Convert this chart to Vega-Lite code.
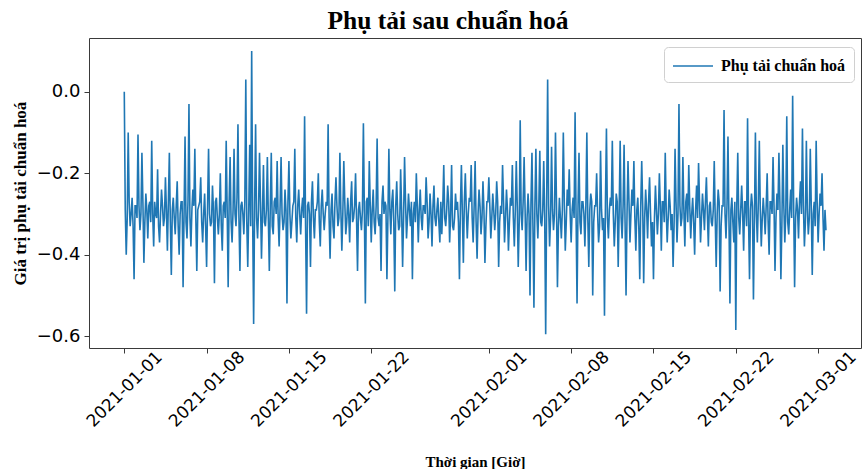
{
  "$schema": "https://vega.github.io/schema/vega-lite/v6.json",
  "width": 772,
  "height": 310,
  "autosize": {"type": "none"},
  "padding": {"left": 89, "top": 38, "right": 6, "bottom": 121},
  "background": "#ffffff",
  "title": {
    "text": "Phụ tải sau chuẩn hoá",
    "font": "Liberation Serif",
    "fontWeight": "bold",
    "fontSize": 25.5,
    "color": "#000000",
    "anchor": "middle",
    "frame": "group",
    "baseline": "alphabetic",
    "offset": 8,
    "dy": 24,
    "dx": -27
  },
  "config": {
    "view": {"stroke": "#3a3a3a", "strokeWidth": 1},
    "axis": {"grid": false, "domain": false, "tickColor": "#3a3a3a", "tickSize": 5, "labelColor": "#000000", "titleColor": "#000000"}
  },
  "data": {
    "values": [
      {"t":"2021-01-01T00:00","v":0.0},{"t":"2021-01-01T02:00","v":-0.29},{"t":"2021-01-01T04:00","v":-0.40},{"t":"2021-01-01T06:00","v":-0.31},{"t":"2021-01-01T08:00","v":-0.10},{"t":"2021-01-01T10:00","v":-0.27},{"t":"2021-01-01T12:00","v":-0.33},{"t":"2021-01-01T14:00","v":-0.30},{"t":"2021-01-01T16:00","v":-0.26},{"t":"2021-01-01T18:00","v":-0.33},{"t":"2021-01-01T20:00","v":-0.46},{"t":"2021-01-01T22:00","v":-0.28},
      {"t":"2021-01-02T00:00","v":-0.28},{"t":"2021-01-02T02:00","v":-0.31},{"t":"2021-01-02T04:00","v":-0.105},{"t":"2021-01-02T06:00","v":-0.28},{"t":"2021-01-02T08:00","v":-0.34},{"t":"2021-01-02T10:00","v":-0.30},{"t":"2021-01-02T12:00","v":-0.15},{"t":"2021-01-02T14:00","v":-0.27},{"t":"2021-01-02T16:00","v":-0.42},{"t":"2021-01-02T18:00","v":-0.32},{"t":"2021-01-02T20:00","v":-0.25},{"t":"2021-01-02T22:00","v":-0.29},
      {"t":"2021-01-03T00:00","v":-0.36},{"t":"2021-01-03T02:00","v":-0.28},{"t":"2021-01-03T04:00","v":-0.27},{"t":"2021-01-03T06:00","v":-0.32},{"t":"2021-01-03T08:00","v":-0.12},{"t":"2021-01-03T10:00","v":-0.30},{"t":"2021-01-03T12:00","v":-0.38},{"t":"2021-01-03T14:00","v":-0.27},{"t":"2021-01-03T16:00","v":-0.30},{"t":"2021-01-03T18:00","v":-0.31},{"t":"2021-01-03T20:00","v":-0.19},{"t":"2021-01-03T22:00","v":-0.33},
      {"t":"2021-01-04T00:00","v":-0.37},{"t":"2021-01-04T02:00","v":-0.30},{"t":"2021-01-04T04:00","v":-0.24},{"t":"2021-01-04T06:00","v":-0.28},{"t":"2021-01-04T08:00","v":-0.33},{"t":"2021-01-04T10:00","v":-0.31},{"t":"2021-01-04T12:00","v":-0.21},{"t":"2021-01-04T14:00","v":-0.29},{"t":"2021-01-04T16:00","v":-0.39},{"t":"2021-01-04T18:00","v":-0.27},{"t":"2021-01-04T20:00","v":-0.15},{"t":"2021-01-04T22:00","v":-0.32},
      {"t":"2021-01-05T00:00","v":-0.45},{"t":"2021-01-05T02:00","v":-0.29},{"t":"2021-01-05T04:00","v":-0.26},{"t":"2021-01-05T06:00","v":-0.31},{"t":"2021-01-05T08:00","v":-0.35},{"t":"2021-01-05T10:00","v":-0.28},{"t":"2021-01-05T12:00","v":-0.22},{"t":"2021-01-05T14:00","v":-0.33},{"t":"2021-01-05T16:00","v":-0.40},{"t":"2021-01-05T18:00","v":-0.30},{"t":"2021-01-05T20:00","v":-0.27},{"t":"2021-01-05T22:00","v":-0.27},
      {"t":"2021-01-06T00:00","v":-0.48},{"t":"2021-01-06T02:00","v":-0.30},{"t":"2021-01-06T04:00","v":-0.11},{"t":"2021-01-06T06:00","v":-0.32},{"t":"2021-01-06T08:00","v":-0.36},{"t":"2021-01-06T10:00","v":-0.27},{"t":"2021-01-06T12:00","v":-0.03},{"t":"2021-01-06T14:00","v":-0.31},{"t":"2021-01-06T16:00","v":-0.38},{"t":"2021-01-06T18:00","v":-0.29},{"t":"2021-01-06T20:00","v":-0.24},{"t":"2021-01-06T22:00","v":-0.28},
      {"t":"2021-01-07T00:00","v":-0.14},{"t":"2021-01-07T02:00","v":-0.31},{"t":"2021-01-07T04:00","v":-0.44},{"t":"2021-01-07T06:00","v":-0.29},{"t":"2021-01-07T08:00","v":-0.28},{"t":"2021-01-07T10:00","v":-0.27},{"t":"2021-01-07T12:00","v":-0.21},{"t":"2021-01-07T14:00","v":-0.32},{"t":"2021-01-07T16:00","v":-0.37},{"t":"2021-01-07T18:00","v":-0.30},{"t":"2021-01-07T20:00","v":-0.25},{"t":"2021-01-07T22:00","v":-0.33},
      {"t":"2021-01-08T00:00","v":-0.43},{"t":"2021-01-08T02:00","v":-0.28},{"t":"2021-01-08T04:00","v":-0.14},{"t":"2021-01-08T06:00","v":-0.30},{"t":"2021-01-08T08:00","v":-0.33},{"t":"2021-01-08T10:00","v":-0.32},{"t":"2021-01-08T12:00","v":-0.23},{"t":"2021-01-08T14:00","v":-0.29},{"t":"2021-01-08T16:00","v":-0.47},{"t":"2021-01-08T18:00","v":-0.27},{"t":"2021-01-08T20:00","v":-0.26},{"t":"2021-01-08T22:00","v":-0.31},
      {"t":"2021-01-09T00:00","v":-0.35},{"t":"2021-01-09T02:00","v":-0.30},{"t":"2021-01-09T04:00","v":-0.20},{"t":"2021-01-09T06:00","v":-0.33},{"t":"2021-01-09T08:00","v":-0.39},{"t":"2021-01-09T10:00","v":-0.28},{"t":"2021-01-09T12:00","v":-0.27},{"t":"2021-01-09T14:00","v":-0.31},{"t":"2021-01-09T16:00","v":-0.12},{"t":"2021-01-09T18:00","v":-0.29},{"t":"2021-01-09T20:00","v":-0.48},{"t":"2021-01-09T22:00","v":-0.27},
      {"t":"2021-01-10T00:00","v":-0.16},{"t":"2021-01-10T02:00","v":-0.32},{"t":"2021-01-10T04:00","v":-0.37},{"t":"2021-01-10T06:00","v":-0.29},{"t":"2021-01-10T08:00","v":-0.14},{"t":"2021-01-10T10:00","v":-0.30},{"t":"2021-01-10T12:00","v":-0.33},{"t":"2021-01-10T14:00","v":-0.26},{"t":"2021-01-10T16:00","v":-0.08},{"t":"2021-01-10T18:00","v":-0.31},{"t":"2021-01-10T20:00","v":-0.44},{"t":"2021-01-10T22:00","v":-0.28},
      {"t":"2021-01-11T00:00","v":-0.27},{"t":"2021-01-11T02:00","v":-0.30},{"t":"2021-01-11T04:00","v":-0.35},{"t":"2021-01-11T06:00","v":-0.27},{"t":"2021-01-11T08:00","v":0.03},{"t":"2021-01-11T10:00","v":-0.32},{"t":"2021-01-11T12:00","v":-0.43},{"t":"2021-01-11T14:00","v":-0.29},{"t":"2021-01-11T16:00","v":-0.13},{"t":"2021-01-11T18:00","v":-0.33},{"t":"2021-01-11T20:00","v":0.10},{"t":"2021-01-11T22:00","v":-0.31},
      {"t":"2021-01-12T00:00","v":-0.57},{"t":"2021-01-12T02:00","v":-0.28},{"t":"2021-01-12T04:00","v":-0.08},{"t":"2021-01-12T06:00","v":-0.31},{"t":"2021-01-12T08:00","v":-0.36},{"t":"2021-01-12T10:00","v":-0.29},{"t":"2021-01-12T12:00","v":-0.15},{"t":"2021-01-12T14:00","v":-0.27},{"t":"2021-01-12T16:00","v":-0.41},{"t":"2021-01-12T18:00","v":-0.30},{"t":"2021-01-12T20:00","v":-0.18},{"t":"2021-01-12T22:00","v":-0.32},
      {"t":"2021-01-13T00:00","v":-0.33},{"t":"2021-01-13T02:00","v":-0.29},{"t":"2021-01-13T04:00","v":-0.16},{"t":"2021-01-13T06:00","v":-0.31},{"t":"2021-01-13T08:00","v":-0.44},{"t":"2021-01-13T10:00","v":-0.28},{"t":"2021-01-13T12:00","v":-0.15},{"t":"2021-01-13T14:00","v":-0.33},{"t":"2021-01-13T16:00","v":-0.35},{"t":"2021-01-13T18:00","v":-0.27},{"t":"2021-01-13T20:00","v":-0.26},{"t":"2021-01-13T22:00","v":-0.30},
      {"t":"2021-01-14T00:00","v":-0.17},{"t":"2021-01-14T02:00","v":-0.31},{"t":"2021-01-14T04:00","v":-0.38},{"t":"2021-01-14T06:00","v":-0.28},{"t":"2021-01-14T08:00","v":-0.16},{"t":"2021-01-14T10:00","v":-0.30},{"t":"2021-01-14T12:00","v":-0.34},{"t":"2021-01-14T14:00","v":-0.32},{"t":"2021-01-14T16:00","v":-0.24},{"t":"2021-01-14T18:00","v":-0.29},{"t":"2021-01-14T20:00","v":-0.52},{"t":"2021-01-14T22:00","v":-0.27},
      {"t":"2021-01-15T00:00","v":-0.17},{"t":"2021-01-15T02:00","v":-0.30},{"t":"2021-01-15T04:00","v":-0.36},{"t":"2021-01-15T06:00","v":-0.32},{"t":"2021-01-15T08:00","v":-0.28},{"t":"2021-01-15T10:00","v":-0.27},{"t":"2021-01-15T12:00","v":-0.14},{"t":"2021-01-15T14:00","v":-0.31},{"t":"2021-01-15T16:00","v":-0.37},{"t":"2021-01-15T18:00","v":-0.28},{"t":"2021-01-15T20:00","v":-0.24},{"t":"2021-01-15T22:00","v":-0.30},
      {"t":"2021-01-16T00:00","v":-0.35},{"t":"2021-01-16T02:00","v":-0.29},{"t":"2021-01-16T04:00","v":-0.26},{"t":"2021-01-16T06:00","v":-0.31},{"t":"2021-01-16T08:00","v":-0.06},{"t":"2021-01-16T10:00","v":-0.33},{"t":"2021-01-16T12:00","v":-0.545},{"t":"2021-01-16T14:00","v":-0.28},{"t":"2021-01-16T16:00","v":-0.27},{"t":"2021-01-16T18:00","v":-0.30},{"t":"2021-01-16T20:00","v":-0.43},{"t":"2021-01-16T22:00","v":-0.27},
      {"t":"2021-01-17T00:00","v":-0.22},{"t":"2021-01-17T02:00","v":-0.31},{"t":"2021-01-17T04:00","v":-0.36},{"t":"2021-01-17T06:00","v":-0.29},{"t":"2021-01-17T08:00","v":-0.29},{"t":"2021-01-17T10:00","v":-0.27},{"t":"2021-01-17T12:00","v":-0.20},{"t":"2021-01-17T14:00","v":-0.32},{"t":"2021-01-17T16:00","v":-0.38},{"t":"2021-01-17T18:00","v":-0.28},{"t":"2021-01-17T20:00","v":-0.24},{"t":"2021-01-17T22:00","v":-0.30},
      {"t":"2021-01-18T00:00","v":-0.34},{"t":"2021-01-18T02:00","v":-0.30},{"t":"2021-01-18T04:00","v":-0.27},{"t":"2021-01-18T06:00","v":-0.28},{"t":"2021-01-18T08:00","v":-0.08},{"t":"2021-01-18T10:00","v":-0.31},{"t":"2021-01-18T12:00","v":-0.41},{"t":"2021-01-18T14:00","v":-0.29},{"t":"2021-01-18T16:00","v":-0.25},{"t":"2021-01-18T18:00","v":-0.33},{"t":"2021-01-18T20:00","v":-0.36},{"t":"2021-01-18T22:00","v":-0.27},
      {"t":"2021-01-19T00:00","v":-0.21},{"t":"2021-01-19T02:00","v":-0.28},{"t":"2021-01-19T04:00","v":-0.33},{"t":"2021-01-19T06:00","v":-0.31},{"t":"2021-01-19T08:00","v":-0.15},{"t":"2021-01-19T10:00","v":-0.29},{"t":"2021-01-19T12:00","v":-0.39},{"t":"2021-01-19T14:00","v":-0.30},{"t":"2021-01-19T16:00","v":-0.17},{"t":"2021-01-19T18:00","v":-0.27},{"t":"2021-01-19T20:00","v":-0.35},{"t":"2021-01-19T22:00","v":-0.32},
      {"t":"2021-01-20T00:00","v":-0.26},{"t":"2021-01-20T02:00","v":-0.30},{"t":"2021-01-20T04:00","v":-0.37},{"t":"2021-01-20T06:00","v":-0.27},{"t":"2021-01-20T08:00","v":-0.22},{"t":"2021-01-20T10:00","v":-0.32},{"t":"2021-01-20T12:00","v":-0.31},{"t":"2021-01-20T14:00","v":-0.28},{"t":"2021-01-20T16:00","v":-0.20},{"t":"2021-01-20T18:00","v":-0.31},{"t":"2021-01-20T20:00","v":-0.44},{"t":"2021-01-20T22:00","v":-0.29},
      {"t":"2021-01-21T00:00","v":-0.27},{"t":"2021-01-21T02:00","v":-0.31},{"t":"2021-01-21T04:00","v":-0.34},{"t":"2021-01-21T06:00","v":-0.29},{"t":"2021-01-21T08:00","v":-0.077},{"t":"2021-01-21T10:00","v":-0.30},{"t":"2021-01-21T12:00","v":-0.52},{"t":"2021-01-21T14:00","v":-0.27},{"t":"2021-01-21T16:00","v":-0.26},{"t":"2021-01-21T18:00","v":-0.33},{"t":"2021-01-21T20:00","v":-0.17},{"t":"2021-01-21T22:00","v":-0.28},
      {"t":"2021-01-22T00:00","v":-0.37},{"t":"2021-01-22T02:00","v":-0.29},{"t":"2021-01-22T04:00","v":-0.24},{"t":"2021-01-22T06:00","v":-0.32},{"t":"2021-01-22T08:00","v":-0.35},{"t":"2021-01-22T10:00","v":-0.28},{"t":"2021-01-22T12:00","v":-0.115},{"t":"2021-01-22T14:00","v":-0.31},{"t":"2021-01-22T16:00","v":-0.33},{"t":"2021-01-22T18:00","v":-0.30},{"t":"2021-01-22T20:00","v":-0.44},{"t":"2021-01-22T22:00","v":-0.27},
      {"t":"2021-01-23T00:00","v":-0.23},{"t":"2021-01-23T02:00","v":-0.30},{"t":"2021-01-23T04:00","v":-0.27},{"t":"2021-01-23T06:00","v":-0.28},{"t":"2021-01-23T08:00","v":-0.46},{"t":"2021-01-23T10:00","v":-0.31},{"t":"2021-01-23T12:00","v":-0.14},{"t":"2021-01-23T14:00","v":-0.29},{"t":"2021-01-23T16:00","v":-0.35},{"t":"2021-01-23T18:00","v":-0.27},{"t":"2021-01-23T20:00","v":-0.24},{"t":"2021-01-23T22:00","v":-0.32},
      {"t":"2021-01-24T00:00","v":-0.49},{"t":"2021-01-24T02:00","v":-0.28},{"t":"2021-01-24T04:00","v":-0.22},{"t":"2021-01-24T06:00","v":-0.30},{"t":"2021-01-24T08:00","v":-0.34},{"t":"2021-01-24T10:00","v":-0.33},{"t":"2021-01-24T12:00","v":-0.19},{"t":"2021-01-24T14:00","v":-0.29},{"t":"2021-01-24T16:00","v":-0.43},{"t":"2021-01-24T18:00","v":-0.31},{"t":"2021-01-24T20:00","v":-0.16},{"t":"2021-01-24T22:00","v":-0.27},
      {"t":"2021-01-25T00:00","v":-0.36},{"t":"2021-01-25T02:00","v":-0.31},{"t":"2021-01-25T04:00","v":-0.25},{"t":"2021-01-25T06:00","v":-0.29},{"t":"2021-01-25T08:00","v":-0.33},{"t":"2021-01-25T10:00","v":-0.27},{"t":"2021-01-25T12:00","v":-0.46},{"t":"2021-01-25T14:00","v":-0.30},{"t":"2021-01-25T16:00","v":-0.27},{"t":"2021-01-25T18:00","v":-0.32},{"t":"2021-01-25T20:00","v":-0.20},{"t":"2021-01-25T22:00","v":-0.28},
      {"t":"2021-01-26T00:00","v":-0.37},{"t":"2021-01-26T02:00","v":-0.29},{"t":"2021-01-26T04:00","v":-0.24},{"t":"2021-01-26T06:00","v":-0.31},{"t":"2021-01-26T08:00","v":-0.34},{"t":"2021-01-26T10:00","v":-0.28},{"t":"2021-01-26T12:00","v":-0.28},{"t":"2021-01-26T14:00","v":-0.30},{"t":"2021-01-26T16:00","v":-0.21},{"t":"2021-01-26T18:00","v":-0.27},{"t":"2021-01-26T20:00","v":-0.36},{"t":"2021-01-26T22:00","v":-0.32},
      {"t":"2021-01-27T00:00","v":-0.25},{"t":"2021-01-27T02:00","v":-0.30},{"t":"2021-01-27T04:00","v":-0.38},{"t":"2021-01-27T06:00","v":-0.28},{"t":"2021-01-27T08:00","v":-0.23},{"t":"2021-01-27T10:00","v":-0.31},{"t":"2021-01-27T12:00","v":-0.33},{"t":"2021-01-27T14:00","v":-0.29},{"t":"2021-01-27T16:00","v":-0.26},{"t":"2021-01-27T18:00","v":-0.32},{"t":"2021-01-27T20:00","v":-0.37},{"t":"2021-01-27T22:00","v":-0.27},
      {"t":"2021-01-28T00:00","v":-0.35},{"t":"2021-01-28T02:00","v":-0.28},{"t":"2021-01-28T04:00","v":-0.18},{"t":"2021-01-28T06:00","v":-0.31},{"t":"2021-01-28T08:00","v":-0.33},{"t":"2021-01-28T10:00","v":-0.29},{"t":"2021-01-28T12:00","v":-0.23},{"t":"2021-01-28T14:00","v":-0.27},{"t":"2021-01-28T16:00","v":-0.37},{"t":"2021-01-28T18:00","v":-0.30},{"t":"2021-01-28T20:00","v":-0.18},{"t":"2021-01-28T22:00","v":-0.33},
      {"t":"2021-01-29T00:00","v":-0.34},{"t":"2021-01-29T02:00","v":-0.31},{"t":"2021-01-29T04:00","v":-0.25},{"t":"2021-01-29T06:00","v":-0.29},{"t":"2021-01-29T08:00","v":-0.27},{"t":"2021-01-29T10:00","v":-0.32},{"t":"2021-01-29T12:00","v":-0.46},{"t":"2021-01-29T14:00","v":-0.28},{"t":"2021-01-29T16:00","v":-0.18},{"t":"2021-01-29T18:00","v":-0.30},{"t":"2021-01-29T20:00","v":-0.42},{"t":"2021-01-29T22:00","v":-0.27},
      {"t":"2021-01-30T00:00","v":-0.20},{"t":"2021-01-30T02:00","v":-0.29},{"t":"2021-01-30T04:00","v":-0.36},{"t":"2021-01-30T06:00","v":-0.30},{"t":"2021-01-30T08:00","v":-0.26},{"t":"2021-01-30T10:00","v":-0.27},{"t":"2021-01-30T12:00","v":-0.18},{"t":"2021-01-30T14:00","v":-0.31},{"t":"2021-01-30T16:00","v":-0.37},{"t":"2021-01-30T18:00","v":-0.28},{"t":"2021-01-30T20:00","v":-0.17},{"t":"2021-01-30T22:00","v":-0.32},
      {"t":"2021-01-31T00:00","v":-0.41},{"t":"2021-01-31T02:00","v":-0.30},{"t":"2021-01-31T04:00","v":-0.24},{"t":"2021-01-31T06:00","v":-0.28},{"t":"2021-01-31T08:00","v":-0.35},{"t":"2021-01-31T10:00","v":-0.31},{"t":"2021-01-31T12:00","v":-0.22},{"t":"2021-01-31T14:00","v":-0.29},{"t":"2021-01-31T16:00","v":-0.42},{"t":"2021-01-31T18:00","v":-0.33},{"t":"2021-01-31T20:00","v":-0.27},{"t":"2021-01-31T22:00","v":-0.27},
      {"t":"2021-02-01T00:00","v":-0.21},{"t":"2021-02-01T02:00","v":-0.28},{"t":"2021-02-01T04:00","v":-0.36},{"t":"2021-02-01T06:00","v":-0.31},{"t":"2021-02-01T08:00","v":-0.25},{"t":"2021-02-01T10:00","v":-0.29},{"t":"2021-02-01T12:00","v":-0.34},{"t":"2021-02-01T14:00","v":-0.30},{"t":"2021-02-01T16:00","v":-0.22},{"t":"2021-02-01T18:00","v":-0.27},{"t":"2021-02-01T20:00","v":-0.43},{"t":"2021-02-01T22:00","v":-0.32},
      {"t":"2021-02-02T00:00","v":-0.28},{"t":"2021-02-02T02:00","v":-0.30},{"t":"2021-02-02T04:00","v":-0.18},{"t":"2021-02-02T06:00","v":-0.27},{"t":"2021-02-02T08:00","v":-0.37},{"t":"2021-02-02T10:00","v":-0.31},{"t":"2021-02-02T12:00","v":-0.24},{"t":"2021-02-02T14:00","v":-0.29},{"t":"2021-02-02T16:00","v":-0.39},{"t":"2021-02-02T18:00","v":-0.32},{"t":"2021-02-02T20:00","v":-0.26},{"t":"2021-02-02T22:00","v":-0.28},
      {"t":"2021-02-03T00:00","v":-0.18},{"t":"2021-02-03T02:00","v":-0.31},{"t":"2021-02-03T04:00","v":-0.38},{"t":"2021-02-03T06:00","v":-0.29},{"t":"2021-02-03T08:00","v":-0.17},{"t":"2021-02-03T10:00","v":-0.28},{"t":"2021-02-03T12:00","v":-0.43},{"t":"2021-02-03T14:00","v":-0.32},{"t":"2021-02-03T16:00","v":-0.07},{"t":"2021-02-03T18:00","v":-0.30},{"t":"2021-02-03T20:00","v":-0.34},{"t":"2021-02-03T22:00","v":-0.27},
      {"t":"2021-02-04T00:00","v":-0.16},{"t":"2021-02-04T02:00","v":-0.29},{"t":"2021-02-04T04:00","v":-0.44},{"t":"2021-02-04T06:00","v":-0.31},{"t":"2021-02-04T08:00","v":-0.25},{"t":"2021-02-04T10:00","v":-0.30},{"t":"2021-02-04T12:00","v":-0.50},{"t":"2021-02-04T14:00","v":-0.27},{"t":"2021-02-04T16:00","v":-0.15},{"t":"2021-02-04T18:00","v":-0.33},{"t":"2021-02-04T20:00","v":-0.53},{"t":"2021-02-04T22:00","v":-0.28},
      {"t":"2021-02-05T00:00","v":-0.14},{"t":"2021-02-05T02:00","v":-0.30},{"t":"2021-02-05T04:00","v":-0.36},{"t":"2021-02-05T06:00","v":-0.28},{"t":"2021-02-05T08:00","v":-0.145},{"t":"2021-02-05T10:00","v":-0.32},{"t":"2021-02-05T12:00","v":-0.33},{"t":"2021-02-05T14:00","v":-0.29},{"t":"2021-02-05T16:00","v":-0.17},{"t":"2021-02-05T18:00","v":-0.31},{"t":"2021-02-05T20:00","v":-0.595},{"t":"2021-02-05T22:00","v":-0.27},
      {"t":"2021-02-06T00:00","v":0.03},{"t":"2021-02-06T02:00","v":-0.28},{"t":"2021-02-06T04:00","v":-0.38},{"t":"2021-02-06T06:00","v":-0.31},{"t":"2021-02-06T08:00","v":-0.135},{"t":"2021-02-06T10:00","v":-0.29},{"t":"2021-02-06T12:00","v":-0.34},{"t":"2021-02-06T14:00","v":-0.30},{"t":"2021-02-06T16:00","v":-0.10},{"t":"2021-02-06T18:00","v":-0.27},{"t":"2021-02-06T20:00","v":-0.48},{"t":"2021-02-06T22:00","v":-0.33},
      {"t":"2021-02-07T00:00","v":-0.26},{"t":"2021-02-07T02:00","v":-0.31},{"t":"2021-02-07T04:00","v":-0.36},{"t":"2021-02-07T06:00","v":-0.29},{"t":"2021-02-07T08:00","v":-0.10},{"t":"2021-02-07T10:00","v":-0.27},{"t":"2021-02-07T12:00","v":-0.39},{"t":"2021-02-07T14:00","v":-0.32},{"t":"2021-02-07T16:00","v":-0.24},{"t":"2021-02-07T18:00","v":-0.28},{"t":"2021-02-07T20:00","v":-0.19},{"t":"2021-02-07T22:00","v":-0.30},
      {"t":"2021-02-08T00:00","v":-0.37},{"t":"2021-02-08T02:00","v":-0.29},{"t":"2021-02-08T04:00","v":-0.26},{"t":"2021-02-08T06:00","v":-0.31},{"t":"2021-02-08T08:00","v":-0.05},{"t":"2021-02-08T10:00","v":-0.30},{"t":"2021-02-08T12:00","v":-0.52},{"t":"2021-02-08T14:00","v":-0.28},{"t":"2021-02-08T16:00","v":-0.15},{"t":"2021-02-08T18:00","v":-0.32},{"t":"2021-02-08T20:00","v":-0.35},{"t":"2021-02-08T22:00","v":-0.27},
      {"t":"2021-02-09T00:00","v":-0.27},{"t":"2021-02-09T02:00","v":-0.30},{"t":"2021-02-09T04:00","v":-0.38},{"t":"2021-02-09T06:00","v":-0.28},{"t":"2021-02-09T08:00","v":-0.10},{"t":"2021-02-09T10:00","v":-0.31},{"t":"2021-02-09T12:00","v":-0.43},{"t":"2021-02-09T14:00","v":-0.29},{"t":"2021-02-09T16:00","v":-0.25},{"t":"2021-02-09T18:00","v":-0.27},{"t":"2021-02-09T20:00","v":-0.50},{"t":"2021-02-09T22:00","v":-0.32},
      {"t":"2021-02-10T00:00","v":-0.28},{"t":"2021-02-10T02:00","v":-0.28},{"t":"2021-02-10T04:00","v":-0.20},{"t":"2021-02-10T06:00","v":-0.30},{"t":"2021-02-10T08:00","v":-0.37},{"t":"2021-02-10T10:00","v":-0.33},{"t":"2021-02-10T12:00","v":-0.145},{"t":"2021-02-10T14:00","v":-0.29},{"t":"2021-02-10T16:00","v":-0.34},{"t":"2021-02-10T18:00","v":-0.31},{"t":"2021-02-10T20:00","v":-0.55},{"t":"2021-02-10T22:00","v":-0.27},
      {"t":"2021-02-11T00:00","v":-0.09},{"t":"2021-02-11T02:00","v":-0.31},{"t":"2021-02-11T04:00","v":-0.36},{"t":"2021-02-11T06:00","v":-0.29},{"t":"2021-02-11T08:00","v":-0.26},{"t":"2021-02-11T10:00","v":-0.28},{"t":"2021-02-11T12:00","v":-0.12},{"t":"2021-02-11T14:00","v":-0.30},{"t":"2021-02-11T16:00","v":-0.38},{"t":"2021-02-11T18:00","v":-0.32},{"t":"2021-02-11T20:00","v":-0.25},{"t":"2021-02-11T22:00","v":-0.27},
      {"t":"2021-02-12T00:00","v":-0.43},{"t":"2021-02-12T02:00","v":-0.29},{"t":"2021-02-12T04:00","v":-0.12},{"t":"2021-02-12T06:00","v":-0.31},{"t":"2021-02-12T08:00","v":-0.36},{"t":"2021-02-12T10:00","v":-0.28},{"t":"2021-02-12T12:00","v":-0.13},{"t":"2021-02-12T14:00","v":-0.32},{"t":"2021-02-12T16:00","v":-0.50},{"t":"2021-02-12T18:00","v":-0.30},{"t":"2021-02-12T20:00","v":-0.17},{"t":"2021-02-12T22:00","v":-0.27},
      {"t":"2021-02-13T00:00","v":-0.37},{"t":"2021-02-13T02:00","v":-0.30},{"t":"2021-02-13T04:00","v":-0.24},{"t":"2021-02-13T06:00","v":-0.28},{"t":"2021-02-13T08:00","v":-0.17},{"t":"2021-02-13T10:00","v":-0.31},{"t":"2021-02-13T12:00","v":-0.39},{"t":"2021-02-13T14:00","v":-0.29},{"t":"2021-02-13T16:00","v":-0.26},{"t":"2021-02-13T18:00","v":-0.33},{"t":"2021-02-13T20:00","v":-0.46},{"t":"2021-02-13T22:00","v":-0.28},
      {"t":"2021-02-14T00:00","v":-0.17},{"t":"2021-02-14T02:00","v":-0.28},{"t":"2021-02-14T04:00","v":-0.47},{"t":"2021-02-14T06:00","v":-0.31},{"t":"2021-02-14T08:00","v":-0.24},{"t":"2021-02-14T10:00","v":-0.29},{"t":"2021-02-14T12:00","v":-0.36},{"t":"2021-02-14T14:00","v":-0.27},{"t":"2021-02-14T16:00","v":-0.21},{"t":"2021-02-14T18:00","v":-0.30},{"t":"2021-02-14T20:00","v":-0.38},{"t":"2021-02-14T22:00","v":-0.32},
      {"t":"2021-02-15T00:00","v":-0.46},{"t":"2021-02-15T02:00","v":-0.31},{"t":"2021-02-15T04:00","v":-0.23},{"t":"2021-02-15T06:00","v":-0.29},{"t":"2021-02-15T08:00","v":-0.35},{"t":"2021-02-15T10:00","v":-0.30},{"t":"2021-02-15T12:00","v":-0.20},{"t":"2021-02-15T14:00","v":-0.28},{"t":"2021-02-15T16:00","v":-0.39},{"t":"2021-02-15T18:00","v":-0.27},{"t":"2021-02-15T20:00","v":-0.27},{"t":"2021-02-15T22:00","v":-0.32},
      {"t":"2021-02-16T00:00","v":-0.15},{"t":"2021-02-16T02:00","v":-0.29},{"t":"2021-02-16T04:00","v":-0.37},{"t":"2021-02-16T06:00","v":-0.31},{"t":"2021-02-16T08:00","v":-0.24},{"t":"2021-02-16T10:00","v":-0.28},{"t":"2021-02-16T12:00","v":-0.34},{"t":"2021-02-16T14:00","v":-0.30},{"t":"2021-02-16T16:00","v":-0.43},{"t":"2021-02-16T18:00","v":-0.33},{"t":"2021-02-16T20:00","v":-0.14},{"t":"2021-02-16T22:00","v":-0.27},
      {"t":"2021-02-17T00:00","v":-0.37},{"t":"2021-02-17T02:00","v":-0.30},{"t":"2021-02-17T04:00","v":-0.03},{"t":"2021-02-17T06:00","v":-0.28},{"t":"2021-02-17T08:00","v":-0.33},{"t":"2021-02-17T10:00","v":-0.31},{"t":"2021-02-17T12:00","v":-0.16},{"t":"2021-02-17T14:00","v":-0.29},{"t":"2021-02-17T16:00","v":-0.38},{"t":"2021-02-17T18:00","v":-0.27},{"t":"2021-02-17T20:00","v":-0.25},{"t":"2021-02-17T22:00","v":-0.32},
      {"t":"2021-02-18T00:00","v":-0.18},{"t":"2021-02-18T02:00","v":-0.28},{"t":"2021-02-18T04:00","v":-0.36},{"t":"2021-02-18T06:00","v":-0.30},{"t":"2021-02-18T08:00","v":-0.26},{"t":"2021-02-18T10:00","v":-0.32},{"t":"2021-02-18T12:00","v":-0.40},{"t":"2021-02-18T14:00","v":-0.29},{"t":"2021-02-18T16:00","v":-0.23},{"t":"2021-02-18T18:00","v":-0.31},{"t":"2021-02-18T20:00","v":-0.175},{"t":"2021-02-18T22:00","v":-0.27},
      {"t":"2021-02-19T00:00","v":-0.37},{"t":"2021-02-19T02:00","v":-0.31},{"t":"2021-02-19T04:00","v":-0.25},{"t":"2021-02-19T06:00","v":-0.29},{"t":"2021-02-19T08:00","v":-0.34},{"t":"2021-02-19T10:00","v":-0.27},{"t":"2021-02-19T12:00","v":-0.21},{"t":"2021-02-19T14:00","v":-0.30},{"t":"2021-02-19T16:00","v":-0.38},{"t":"2021-02-19T18:00","v":-0.28},{"t":"2021-02-19T20:00","v":-0.27},{"t":"2021-02-19T22:00","v":-0.32},
      {"t":"2021-02-20T00:00","v":-0.33},{"t":"2021-02-20T02:00","v":-0.29},{"t":"2021-02-20T04:00","v":-0.17},{"t":"2021-02-20T06:00","v":-0.31},{"t":"2021-02-20T08:00","v":-0.43},{"t":"2021-02-20T10:00","v":-0.30},{"t":"2021-02-20T12:00","v":-0.24},{"t":"2021-02-20T14:00","v":-0.27},{"t":"2021-02-20T16:00","v":-0.49},{"t":"2021-02-20T18:00","v":-0.33},{"t":"2021-02-20T20:00","v":-0.28},{"t":"2021-02-20T22:00","v":-0.28},
      {"t":"2021-02-21T00:00","v":-0.045},{"t":"2021-02-21T02:00","v":-0.30},{"t":"2021-02-21T04:00","v":-0.36},{"t":"2021-02-21T06:00","v":-0.28},{"t":"2021-02-21T08:00","v":-0.11},{"t":"2021-02-21T10:00","v":-0.31},{"t":"2021-02-21T12:00","v":-0.52},{"t":"2021-02-21T14:00","v":-0.29},{"t":"2021-02-21T16:00","v":-0.26},{"t":"2021-02-21T18:00","v":-0.32},{"t":"2021-02-21T20:00","v":-0.37},{"t":"2021-02-21T22:00","v":-0.27},
      {"t":"2021-02-22T00:00","v":-0.585},{"t":"2021-02-22T02:00","v":-0.28},{"t":"2021-02-22T04:00","v":-0.15},{"t":"2021-02-22T06:00","v":-0.31},{"t":"2021-02-22T08:00","v":-0.35},{"t":"2021-02-22T10:00","v":-0.29},{"t":"2021-02-22T12:00","v":-0.23},{"t":"2021-02-22T14:00","v":-0.30},{"t":"2021-02-22T16:00","v":-0.39},{"t":"2021-02-22T18:00","v":-0.27},{"t":"2021-02-22T20:00","v":-0.27},{"t":"2021-02-22T22:00","v":-0.33},
      {"t":"2021-02-23T00:00","v":-0.065},{"t":"2021-02-23T02:00","v":-0.31},{"t":"2021-02-23T04:00","v":-0.46},{"t":"2021-02-23T06:00","v":-0.29},{"t":"2021-02-23T08:00","v":-0.25},{"t":"2021-02-23T10:00","v":-0.28},{"t":"2021-02-23T12:00","v":-0.51},{"t":"2021-02-23T14:00","v":-0.32},{"t":"2021-02-23T16:00","v":-0.10},{"t":"2021-02-23T18:00","v":-0.30},{"t":"2021-02-23T20:00","v":-0.37},{"t":"2021-02-23T22:00","v":-0.27},
      {"t":"2021-02-24T00:00","v":-0.12},{"t":"2021-02-24T02:00","v":-0.29},{"t":"2021-02-24T04:00","v":-0.38},{"t":"2021-02-24T06:00","v":-0.31},{"t":"2021-02-24T08:00","v":-0.26},{"t":"2021-02-24T10:00","v":-0.30},{"t":"2021-02-24T12:00","v":-0.35},{"t":"2021-02-24T14:00","v":-0.28},{"t":"2021-02-24T16:00","v":-0.20},{"t":"2021-02-24T18:00","v":-0.32},{"t":"2021-02-24T20:00","v":-0.40},{"t":"2021-02-24T22:00","v":-0.27},
      {"t":"2021-02-25T00:00","v":-0.27},{"t":"2021-02-25T02:00","v":-0.30},{"t":"2021-02-25T04:00","v":-0.16},{"t":"2021-02-25T06:00","v":-0.28},{"t":"2021-02-25T08:00","v":-0.44},{"t":"2021-02-25T10:00","v":-0.31},{"t":"2021-02-25T12:00","v":-0.25},{"t":"2021-02-25T14:00","v":-0.29},{"t":"2021-02-25T16:00","v":-0.15},{"t":"2021-02-25T18:00","v":-0.27},{"t":"2021-02-25T20:00","v":-0.46},{"t":"2021-02-25T22:00","v":-0.33},
      {"t":"2021-02-26T00:00","v":-0.13},{"t":"2021-02-26T02:00","v":-0.28},{"t":"2021-02-26T04:00","v":-0.37},{"t":"2021-02-26T06:00","v":-0.30},{"t":"2021-02-26T08:00","v":-0.06},{"t":"2021-02-26T10:00","v":-0.32},{"t":"2021-02-26T12:00","v":-0.35},{"t":"2021-02-26T14:00","v":-0.29},{"t":"2021-02-26T16:00","v":-0.24},{"t":"2021-02-26T18:00","v":-0.31},{"t":"2021-02-26T20:00","v":-0.01},{"t":"2021-02-26T22:00","v":-0.27},
      {"t":"2021-02-27T00:00","v":-0.48},{"t":"2021-02-27T02:00","v":-0.31},{"t":"2021-02-27T04:00","v":-0.26},{"t":"2021-02-27T06:00","v":-0.29},{"t":"2021-02-27T08:00","v":-0.36},{"t":"2021-02-27T10:00","v":-0.27},{"t":"2021-02-27T12:00","v":-0.22},{"t":"2021-02-27T14:00","v":-0.30},{"t":"2021-02-27T16:00","v":-0.09},{"t":"2021-02-27T18:00","v":-0.28},{"t":"2021-02-27T20:00","v":-0.38},{"t":"2021-02-27T22:00","v":-0.32},
      {"t":"2021-02-28T00:00","v":-0.12},{"t":"2021-02-28T02:00","v":-0.29},{"t":"2021-02-28T04:00","v":-0.35},{"t":"2021-02-28T06:00","v":-0.31},{"t":"2021-02-28T08:00","v":-0.14},{"t":"2021-02-28T10:00","v":-0.28},{"t":"2021-02-28T12:00","v":-0.45},{"t":"2021-02-28T14:00","v":-0.30},{"t":"2021-02-28T16:00","v":-0.27},{"t":"2021-02-28T18:00","v":-0.33},{"t":"2021-02-28T20:00","v":-0.12},{"t":"2021-02-28T22:00","v":-0.27},
      {"t":"2021-03-01T00:00","v":-0.37},{"t":"2021-03-01T02:00","v":-0.30},{"t":"2021-03-01T04:00","v":-0.25},{"t":"2021-03-01T06:00","v":-0.28},{"t":"2021-03-01T08:00","v":-0.20},{"t":"2021-03-01T10:00","v":-0.31},{"t":"2021-03-01T12:00","v":-0.39},{"t":"2021-03-01T14:00","v":-0.29},{"t":"2021-03-01T16:00","v":-0.34}
    ]
  },
  "mark": {"type": "line", "strokeWidth": 1.6, "clip": true},
  "encoding": {
    "x": {
      "field": "t",
      "type": "temporal",
      "scale": {"domain": [{"year": 2020, "month": 12, "date": 29, "hours": 0}, {"year": 2021, "month": 3, "date": 4, "hours": 15, "minutes": 30}], "nice": false},
      "axis": {
        "values": [
          {"year": 2021, "month": 1, "date": 1},
          {"year": 2021, "month": 1, "date": 8},
          {"year": 2021, "month": 1, "date": 15},
          {"year": 2021, "month": 1, "date": 22},
          {"year": 2021, "month": 2, "date": 1},
          {"year": 2021, "month": 2, "date": 8},
          {"year": 2021, "month": 2, "date": 15},
          {"year": 2021, "month": 2, "date": 22},
          {"year": 2021, "month": 3, "date": 1}
        ],
        "format": "%Y-%m-%d",
        "labelAngle": -45,
        "labelAlign": "center",
        "labelBaseline": "middle",
        "labelPadding": 36,
        "labelFont": "DejaVu Sans",
        "labelFontSize": 17,
        "labelOverlap": false,
        "labelFlush": false,
        "labelBound": false,
        "title": "Thời gian [Giờ]",
        "titleFont": "Liberation Serif",
        "titleFontWeight": "bold",
        "titleFontSize": 15,
        "titleAnchor": "middle",
        "titleX": 386,
        "titleY": 118,
        "titleBaseline": "alphabetic"
      }
    },
    "y": {
      "field": "v",
      "type": "quantitative",
      "scale": {"domain": [-0.629, 0.132], "nice": false, "zero": false},
      "axis": {
        "values": [-0.6, -0.4, -0.2, 0.0],
        "format": ".1f",
        "labelFont": "DejaVu Sans",
        "labelFontSize": 18,
        "labelPadding": 4,
        "title": "Giá trị phụ tải chuẩn hoá",
        "titleFont": "Liberation Serif",
        "titleFontWeight": "bold",
        "titleFontSize": 17,
        "titleAngle": -90,
        "titleAlign": "center",
        "titleBaseline": "middle",
        "titleX": -69,
        "titleY": 155
      }
    },
    "color": {
      "datum": "Phụ tải chuẩn hoá",
      "scale": {"range": ["#1f77b4"]},
      "legend": {
        "orient": "none",
        "legendX": 575,
        "legendY": 9,
        "title": null,
        "symbolType": "M-2,0H2",
        "symbolSize": 400,
        "symbolStrokeWidth": 1.5,
        "symbolOffset": 10,
        "labelOffset": 17,
        "labelFont": "Liberation Serif",
        "labelFontWeight": "bold",
        "labelFontSize": 16,
        "labelColor": "#000000",
        "padding": 8,
        "strokeColor": "#d0d0d0",
        "fillColor": "#ffffff",
        "cornerRadius": 4
      }
    }
  }
}
